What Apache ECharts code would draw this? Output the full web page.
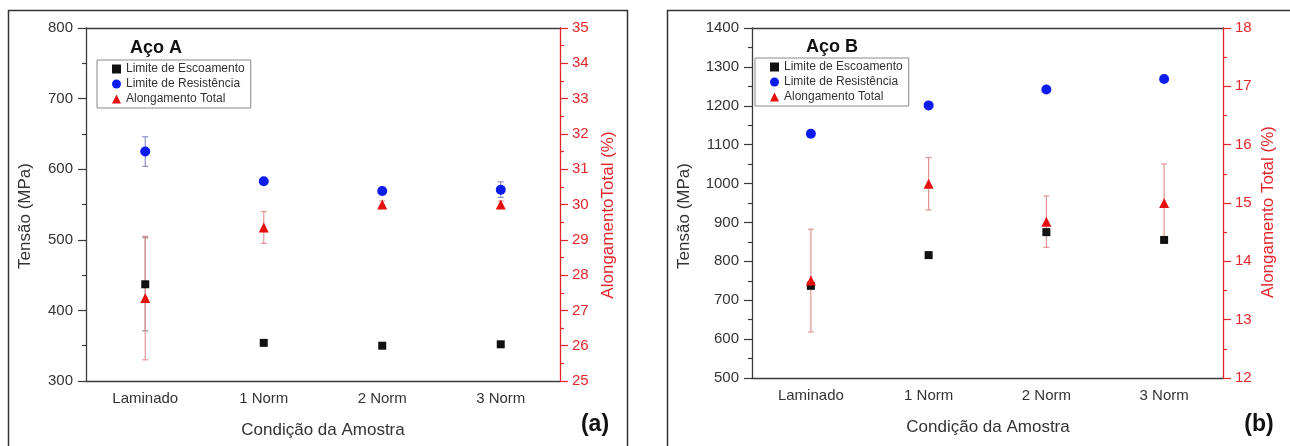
<!DOCTYPE html>
<html lang="pt">
<head>
    <meta charset="UTF-8">
    <title>Aço A / Aço B</title>
    <script src="https://cdn.jsdelivr.net/npm/echarts@6/dist/echarts.min.js"></script>
    <style>
        html, body { margin: 0; padding: 0; background: #fff; }
        #chart { width: 1290px; height: 446px; }
    </style>
</head>
<body>
    <div id="chart"></div>
    <script>
        const categories = ['Laminado', '1 Norm', '2 Norm', '3 Norm'];

        // Aço A
        const escoamentoA = [437, 354, 350, 352];
        const escoamentoErrA = [66, 3, 2, 3];
        const resistenciaA = [625, 583, 569, 571];
        const resistenciaErrA = [21, 4, 5, 11];
        const alongamentoA = [27.35, 29.35, 30.0, 30.0];
        const alongamentoErrA = [1.75, 0.45, 0.1, 0.1];

        // Aço B
        const escoamentoB = [737, 816, 875, 855];
        const escoamentoErrB = [5, 5, 8, 5];
        const resistenciaB = [1128, 1201, 1242, 1269];
        const resistenciaErrB = [4, 4, 4, 4];
        const alongamentoB = [13.67, 15.33, 14.68, 15.0];
        const alongamentoErrB = [0.88, 0.45, 0.44, 0.67];

        const FONT = 'Liberation Sans, Arial, sans-serif';
        const RED = '#e3262c';
        const AXIS = '#3a3a3a';

        const chart = echarts.init(document.getElementById('chart'));

        function errData(vals, errs) {
            return vals.map((v, i) => [i, v - errs[i], v + errs[i]]);
        }

        function errRender(color) {
            return function (params, api) {
                const x = api.value(0);
                const top = api.coord([x, api.value(2)]);
                const bot = api.coord([x, api.value(1)]);
                const w = 3;
                const st = { stroke: color, lineWidth: 1.2 };
                return {
                    type: 'group',
                    children: [
                        { type: 'line', shape: { x1: top[0], y1: top[1], x2: bot[0], y2: bot[1] }, style: st },
                        { type: 'line', shape: { x1: top[0] - w, y1: top[1], x2: top[0] + w, y2: top[1] }, style: st },
                        { type: 'line', shape: { x1: bot[0] - w, y1: bot[1], x2: bot[0] + w, y2: bot[1] }, style: st }
                    ]
                };
            };
        }

        function xAxes(gridIndex) {
            const base = { type: 'category', data: categories, gridIndex: gridIndex, boundaryGap: true,
                axisLine: { lineStyle: { color: AXIS, width: 1.3 } }, splitLine: { show: false } };
            return [
                Object.assign({}, base, {
                    position: 'bottom',
                    axisTick: { alignWithLabel: true, length: 6, lineStyle: { color: AXIS, width: 1.2 } },
                    axisLabel: { color: '#333', fontSize: 15, fontFamily: FONT, margin: 10 }
                }),
                Object.assign({}, base, {
                    position: 'bottom', axisLine: { show: false },
                    axisTick: { length: 3, lineStyle: { color: AXIS, width: 1.2 } },
                    axisLabel: { show: false }
                }),
                Object.assign({}, base, {
                    position: 'top',
                    axisTick: { inside: true, alignWithLabel: true, length: 7, lineStyle: { color: AXIS, width: 1.2 } },
                    axisLabel: { show: false }
                }),
                Object.assign({}, base, {
                    position: 'top', axisLine: { show: false },
                    axisTick: { inside: true, length: 3, lineStyle: { color: AXIS, width: 1.2 } },
                    axisLabel: { show: false }
                })
            ];
        }

        function yLeft(gridIndex, min, max) {
            return {
                type: 'value', gridIndex: gridIndex, position: 'left', min: min, max: max, interval: 100,
                axisLine: { show: true, lineStyle: { color: AXIS, width: 1.3 } },
                axisTick: { show: true, length: 8, lineStyle: { color: AXIS, width: 1.2 } },
                minorTick: { show: true, splitNumber: 2, length: 4, lineStyle: { color: AXIS, width: 1.2 } },
                axisLabel: { color: '#333', fontSize: 15, fontFamily: FONT, margin: 13, formatter: v => String(v) },
                splitLine: { show: false }
            };
        }

        function yRight(gridIndex, min, max) {
            return {
                type: 'value', gridIndex: gridIndex, position: 'right', min: min, max: max, interval: 1,
                axisLine: { show: true, lineStyle: { color: RED, width: 1.3 } },
                axisTick: { show: true, length: 8, lineStyle: { color: RED, width: 1.2 } },
                minorTick: { show: true, splitNumber: 2, length: 4, lineStyle: { color: RED, width: 1.2 } },
                axisLabel: { color: RED, fontSize: 15, fontFamily: FONT, margin: 12, formatter: v => String(v) },
                splitLine: { show: false }
            };
        }

        function panelSeries(xi, yl, yr, esc, escErr, res, resErr, alo, aloErr) {
            return [
                { type: 'custom', name: 'errEsc', xAxisIndex: xi, yAxisIndex: yl, renderItem: errRender('#8c8c8c'),
                  encode: { x: 0, y: [1, 2] }, data: errData(esc, escErr), z: 1, silent: true },
                { type: 'custom', name: 'errRes', xAxisIndex: xi, yAxisIndex: yl, renderItem: errRender('#8d95c6'),
                  encode: { x: 0, y: [1, 2] }, data: errData(res, resErr), z: 1, silent: true },
                { type: 'custom', name: 'errAlo', xAxisIndex: xi, yAxisIndex: yr, renderItem: errRender('#e39494'),
                  encode: { x: 0, y: [1, 2] }, data: errData(alo, aloErr), z: 1, silent: true },
                { type: 'scatter', name: 'Limite de Escoamento', xAxisIndex: xi, yAxisIndex: yl, symbol: 'rect',
                  symbolSize: 8, itemStyle: { color: '#111', opacity: 1 }, data: esc, z: 3 },
                { type: 'scatter', name: 'Limite de Resistência', xAxisIndex: xi, yAxisIndex: yl, symbol: 'circle',
                  symbolSize: 10, itemStyle: { color: '#0a1cf0', opacity: 1 }, data: res, z: 3 },
                { type: 'scatter', name: 'Alongamento Total', xAxisIndex: xi, yAxisIndex: yr, symbol: 'triangle',
                  symbolSize: 10, itemStyle: { color: '#e60f0f', opacity: 1 }, data: alo, z: 4 }
            ];
        }

        const legendBase = {
            orient: 'vertical', itemWidth: 9, itemHeight: 9, itemGap: 3,
            padding: [3, 6, 3, 15], borderColor: '#8a8a8a', borderWidth: 1,
            textStyle: { fontSize: 12, fontFamily: FONT, color: '#333' },
            selectedMode: false,
            data: [
                { name: 'Limite de Escoamento', icon: 'rect' },
                { name: 'Limite de Resistência', icon: 'circle' },
                { name: 'Alongamento Total', icon: 'triangle' }
            ]
        };

        function txt(x, y, text, size, opts) {
            return Object.assign({
                type: 'text', x: x, y: y,
                style: Object.assign({ text: text, fontSize: size, fontFamily: FONT, fill: '#222',
                    align: 'center', verticalAlign: 'middle' }, (opts && opts.style) || {})
            }, opts && opts.rotation ? { rotation: opts.rotation } : {});
        }

        chart.setOption({
            animation: false,
            grid: [
                { left: 86, top: 28, width: 474, height: 353 },
                { left: 752, top: 28, width: 471, height: 350 }
            ],
            xAxis: xAxes(0).concat(xAxes(1)),
            yAxis: [yLeft(0, 300, 800), yRight(0, 25, 35), yLeft(1, 500, 1400), yRight(1, 12, 18)],
            legend: [
                Object.assign({}, legendBase, { left: 97, top: 60 }),
                Object.assign({}, legendBase, { left: 755, top: 58 })
            ],
            graphic: [
                { type: 'rect', shape: { x: 8.5, y: 10.5, width: 619, height: 460 }, style: { fill: 'none', stroke: '#333', lineWidth: 1.5 } },
                { type: 'rect', shape: { x: 667.5, y: 10.5, width: 660, height: 460 }, style: { fill: 'none', stroke: '#333', lineWidth: 1.5 } },
                txt(156, 48, 'Aço A', 18, { style: { fontWeight: 'bold', fill: '#111' } }),
                txt(832, 47, 'Aço B', 18, { style: { fontWeight: 'bold', fill: '#111' } }),
                txt(25, 216, 'Tensão (MPa)', 17, { rotation: Math.PI / 2, style: { fill: '#333' } }),
                txt(608, 215, 'AlongamentoTotal (%)', 17, { rotation: Math.PI / 2, style: { fill: RED } }),
                txt(684, 216, 'Tensão (MPa)', 17, { rotation: Math.PI / 2, style: { fill: '#333' } }),
                txt(1268, 212, 'Alongamento Total (%)', 17, { rotation: Math.PI / 2, style: { fill: RED } }),
                txt(323, 430, 'Condição da Amostra', 17, { style: { fill: '#333' } }),
                txt(988, 427, 'Condição da Amostra', 17, { style: { fill: '#333' } }),
                txt(595, 425, '(a)', 23, { style: { fontWeight: 'bold', fill: '#111' } }),
                txt(1259, 425, '(b)', 23, { style: { fontWeight: 'bold', fill: '#111' } })
            ],
            series: panelSeries(0, 0, 1, escoamentoA, escoamentoErrA, resistenciaA, resistenciaErrA, alongamentoA, alongamentoErrA)
                .concat(panelSeries(4, 2, 3, escoamentoB, escoamentoErrB, resistenciaB, resistenciaErrB, alongamentoB, alongamentoErrB))
        });
    </script>
</body>
</html>
